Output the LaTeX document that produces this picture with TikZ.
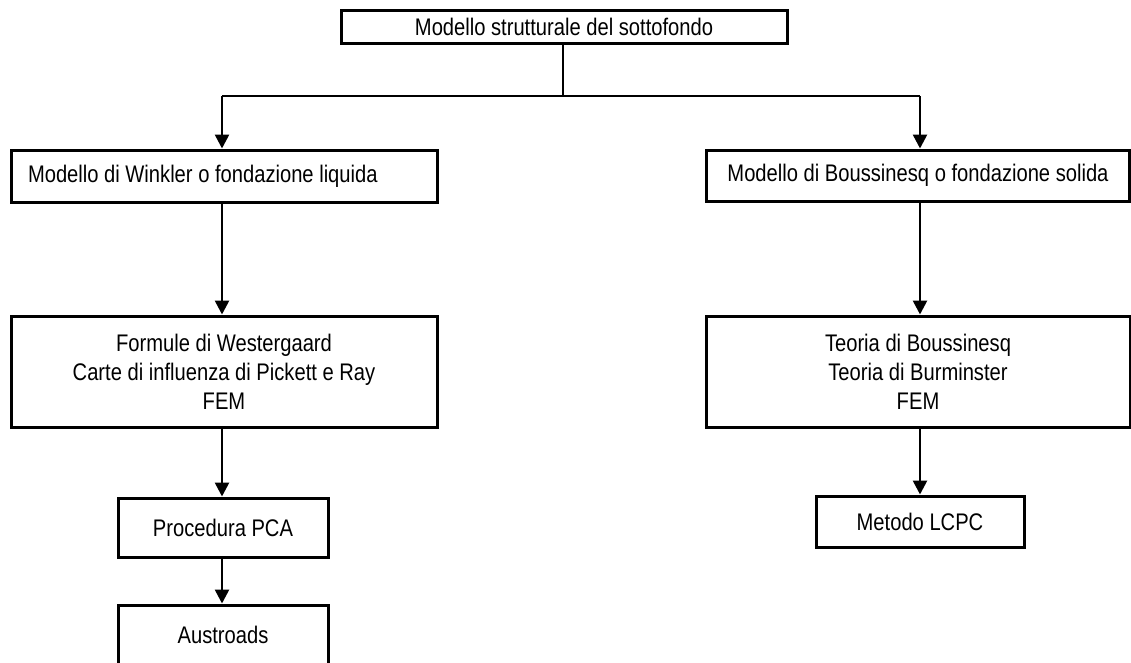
\documentclass[tikz,border=0pt]{standalone}
\usepackage{fontspec}
\setmainfont{Liberation Sans}[FakeStretch=0.84]
\usetikzlibrary{arrows.meta}
\tikzset{
  box/.style={draw, line width=3pt, inner sep=0pt, align=center,
    font=\fontsize{24}{29}\selectfont},
  link/.style={line width=2.6pt},
  flow/.style={link, -{Triangle[width=14pt,length=14pt]}}
}
\begin{document}
\begin{tikzpicture}[x=1pt,y=-1pt]
  \clip (0,0) rectangle (1131,662);
  \fill[white] (0,0) rectangle (1131,662);

  % root
  \node[box, minimum width=446pt, minimum height=33pt] (root) at (564,26.5)
    {Modello strutturale del sottofondo};

  % left branch: Winkler
  \node[box, text width=392pt, inner xsep=17pt, align=flush left, minimum height=52pt]
    (wink) at (224,176) {Modello di Winkler o fondazione liquida};
  \node[box, minimum width=426pt, minimum height=111pt] (west) at (224,371.5)
    {Formule di Westergaard\\Carte di influenza di Pickett e Ray\\FEM};
  \node[box, minimum width=210pt, minimum height=59pt] (pca) at (223,527.5)
    {Procedura PCA};
  \node[box, minimum width=210pt, minimum height=59pt] (aus) at (223,634.5)
    {Austroads};

  % right branch: Boussinesq
  \node[box, minimum width=423pt, minimum height=51pt] (bous) at (918,175.5)
    {Modello di Boussinesq o fondazione solida};
  \node[box, minimum width=424pt, minimum height=111pt] (teo) at (918,371.5)
    {Teoria di Boussinesq\\Teoria di Burminster\\FEM};
  \node[box, minimum width=208pt, minimum height=51pt] (lcpc) at (920,521.5)
    {Metodo LCPC};

  % split below the root
  \coordinate (split) at (563,96);
  \coordinate (lt) at (222,96);
  \coordinate (rt) at (920,96);
  \draw[link] (root.south -| split) -- (split);
  \draw[link] (lt) -- (rt);
  \draw[flow] (lt) -- (lt |- wink.north);
  \draw[flow] (rt) -- (rt |- bous.north);

  % chains
  \draw[flow] (lt |- wink.south) -- (lt |- west.north);
  \draw[flow] (lt |- west.south) -- (lt |- pca.north);
  \draw[flow] (lt |- pca.south) -- (lt |- aus.north);
  \draw[flow] (rt |- bous.south) -- (rt |- teo.north);
  \draw[flow] (rt |- teo.south) -- (lcpc.north);
\end{tikzpicture}
\end{document}
